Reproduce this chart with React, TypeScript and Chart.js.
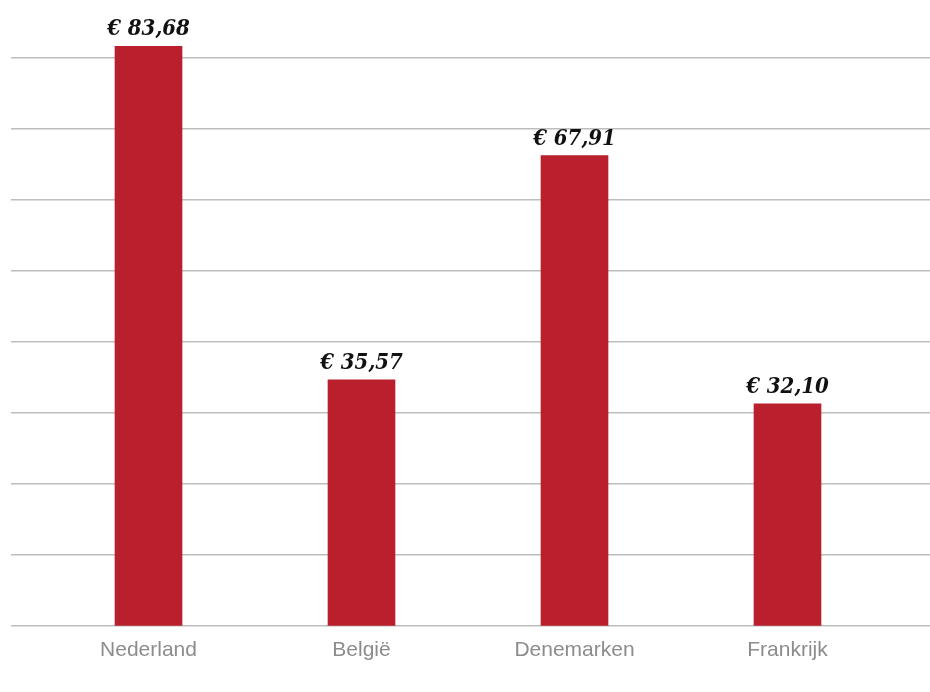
import React, { useEffect, useRef } from "react";
import { Chart, registerables } from "chart.js";

Chart.register(...registerables);

const categories = ["Nederland", "België", "Denemarken", "Frankrijk"];
const values = [83.68, 35.57, 67.91, 32.1];
const valueLabels = ["€ 83,68", "€ 35,57", "€ 67,91", "€ 32,10"];
const yMax = 90;
const yStep = 10.25;
const gridCount = 8;

const BAR_COLOR = "#B91F2D";
const GRID_COLOR = "#BDBDBD";

const valueLabelPlugin = {
  id: "valueLabels",
  afterDatasetsDraw(chart: any) {
    const ctx = chart.ctx;
    const meta = chart.getDatasetMeta(0);
    ctx.save();
    ctx.font = "italic bold 22px 'DejaVu Serif Condensed', 'DejaVu Serif', serif";
    ctx.fillStyle = "#111111";
    ctx.textAlign = "center";
    ctx.textBaseline = "alphabetic";
    meta.data.forEach((bar: any, i: number) => {
      ctx.fillText(valueLabels[i], bar.x, bar.y - 11);
    });
    ctx.restore();
  },
};

function keepGridTicks(scale: any) {
  scale.ticks = scale.ticks.filter((t: any) => t.value <= yStep * gridCount + 0.01);
}

export default function App() {
  const canvasRef = useRef<HTMLCanvasElement | null>(null);

  useEffect(() => {
    if (!canvasRef.current) return;
    const chart = new Chart(canvasRef.current, {
      type: "bar",
      data: {
        labels: categories,
        datasets: [
          {
            data: values,
            backgroundColor: BAR_COLOR,
            barThickness: 67,
            yAxisID: "y",
          },
        ],
      },
      options: {
        animation: false,
        responsive: false,
        layout: { padding: { left: 11, right: 0, top: 2.6, bottom: 26.6 } },
        plugins: {
          legend: { display: false },
          tooltip: { enabled: false },
        },
        scales: {
          x: {
            grid: { display: false },
            border: { display: false },
            ticks: {
              color: "#8C8C8C",
              padding: 3,
              font: { family: "'Liberation Sans', Arial, sans-serif", size: 21 },
            },
          },
          y: {
            position: "left",
            min: 0,
            max: yMax,
            afterBuildTicks: keepGridTicks,
            ticks: { stepSize: yStep, display: false },
            border: { display: false },
            grid: {
              color: GRID_COLOR,
              lineWidth: 1.5,
              drawTicks: true,
              tickLength: 31,
            },
          },
          y2: {
            position: "right",
            min: 0,
            max: yMax,
            afterBuildTicks: keepGridTicks,
            ticks: { stepSize: yStep, display: false },
            border: { display: false },
            grid: {
              color: GRID_COLOR,
              lineWidth: 1.5,
              drawOnChartArea: false,
              drawTicks: true,
              tickLength: 36,
            },
          },
        },
      },
      plugins: [valueLabelPlugin],
    });
    return () => chart.destroy();
  }, []);

  return (
    <div style={{ position: "absolute", left: 0, top: 0, width: 930, height: 692, background: "#ffffff" }}>
      <canvas ref={canvasRef} width={930} height={692} style={{ display: "block" }} />
    </div>
  );
}
